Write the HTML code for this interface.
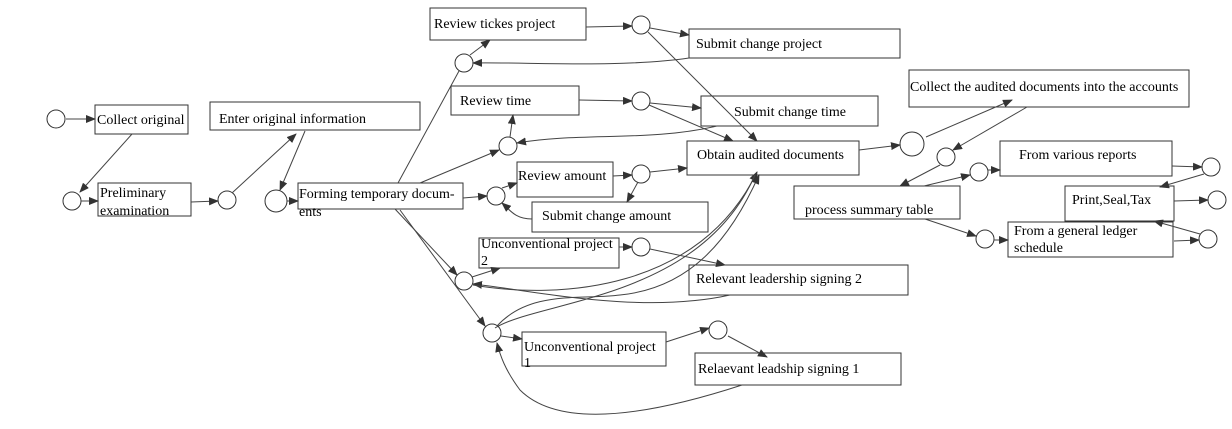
<!DOCTYPE html>
<html><head><meta charset="utf-8"><style>
html,body{margin:0;padding:0;background:#fff;}
text{font-family:"Liberation Serif","Times New Roman",serif;font-size:14px;fill:#000;}
</style></head><body>
<svg width="1232" height="424" viewBox="0 0 1232 424" xmlns="http://www.w3.org/2000/svg">
<defs><marker id="a" markerWidth="10" markerHeight="8" refX="9" refY="4" orient="auto" markerUnits="userSpaceOnUse"><path d="M0,0 L10,4 L0,8 z" fill="#333"/></marker></defs>
<g fill="#fff" stroke="#333" stroke-width="1">
<rect x="95" y="105" width="93" height="29"/>
<rect x="210" y="102" width="210" height="28"/>
<rect x="98" y="183" width="93" height="33"/>
<rect x="298" y="183" width="165" height="26"/>
<rect x="430" y="8" width="156" height="32"/>
<rect x="689" y="29" width="211" height="29"/>
<rect x="451" y="86" width="128" height="29"/>
<rect x="701" y="96" width="177" height="30"/>
<rect x="517" y="162" width="96" height="35"/>
<rect x="532" y="202" width="176" height="30"/>
<rect x="479" y="238" width="140" height="30"/>
<rect x="689" y="265" width="219" height="30"/>
<rect x="522" y="332" width="144" height="34"/>
<rect x="695" y="353" width="206" height="32"/>
<rect x="687" y="141" width="172" height="34"/>
<rect x="909" y="70" width="280" height="37"/>
<rect x="794" y="186" width="166" height="33"/>
<rect x="1000" y="141" width="172" height="35"/>
<rect x="1065" y="186" width="109" height="35"/>
<rect x="1008" y="222" width="165" height="35"/>
<circle cx="56" cy="119" r="9"/><circle cx="72" cy="201" r="9"/><circle cx="227" cy="200" r="9"/>
<circle cx="276" cy="201" r="11"/><circle cx="464" cy="63" r="9"/><circle cx="641" cy="25" r="9"/>
<circle cx="641" cy="101" r="9"/><circle cx="508" cy="146" r="9"/><circle cx="496" cy="196" r="9"/>
<circle cx="641" cy="174" r="9"/><circle cx="641" cy="247" r="9"/><circle cx="464" cy="281" r="9"/>
<circle cx="492" cy="333" r="9"/><circle cx="718" cy="330" r="9"/><circle cx="912" cy="144" r="12"/>
<circle cx="946" cy="157" r="9"/><circle cx="979" cy="172" r="9"/><circle cx="985" cy="239" r="9"/>
<circle cx="1211" cy="167" r="9"/><circle cx="1217" cy="200" r="9"/><circle cx="1208" cy="239" r="9"/>
</g>
<g fill="none" stroke="#444" stroke-width="1" marker-end="url(#a)">
<line x1="66" y1="119" x2="95" y2="119"/>
<line x1="132" y1="134" x2="80" y2="192"/>
<line x1="81" y1="201" x2="98" y2="201"/>
<line x1="191" y1="202" x2="218" y2="201"/>
<line x1="232" y1="193" x2="296" y2="134"/>
<line x1="305" y1="131" x2="280" y2="190"/>
<line x1="287" y1="201" x2="298" y2="201"/>
<line x1="470" y1="55" x2="490" y2="40"/>
<line x1="586" y1="27" x2="632" y2="26"/>
<line x1="650" y1="28" x2="689" y2="35"/>
<path d="M689,58 C620,68 530,62 473,63"/>
<line x1="648" y1="32" x2="757" y2="141"/>
<line x1="420" y1="183" x2="499" y2="150"/>
<line x1="510" y1="137" x2="513" y2="115"/>
<line x1="579" y1="100" x2="632" y2="101"/>
<line x1="650" y1="103" x2="701" y2="108"/>
<line x1="649" y1="105" x2="733" y2="141"/>
<path d="M717,126 C650,142 580,132 517,143"/>
<line x1="463" y1="198" x2="487" y2="196"/>
<line x1="502" y1="188" x2="517" y2="183"/>
<line x1="613" y1="176" x2="632" y2="175"/>
<line x1="650" y1="172" x2="687" y2="168"/>
<line x1="638" y1="182" x2="627" y2="202"/>
<path d="M532,219 C515,219 510,210 502,203"/>
<line x1="395" y1="209" x2="457" y2="275"/>
<line x1="472" y1="277" x2="500" y2="268"/>
<line x1="619" y1="247" x2="632" y2="247"/>
<line x1="650" y1="249" x2="725" y2="265"/>
<path d="M730,295 C640,315 530,290 473,284"/>
<path d="M473,285 C560,300 700,290 757,172"/>
<path d="M497,326 C530,290 580,300 620,295 C690,288 730,240 759,175"/>
<line x1="400" y1="210" x2="485" y2="326"/>
<line x1="501" y1="336" x2="522" y2="339"/>
<line x1="666" y1="342" x2="709" y2="328"/>
<line x1="728" y1="336" x2="767" y2="357"/>
<path d="M742,385 C650,415 560,430 520,390 C505,370 500,355 497,343"/>
<line x1="859" y1="150" x2="900" y2="145"/>
<line x1="926" y1="137" x2="1012" y2="100"/>
<line x1="1027" y1="107" x2="953" y2="150"/>
<line x1="940" y1="165" x2="900" y2="186"/>
<line x1="924" y1="186" x2="970" y2="175"/>
<line x1="988" y1="170" x2="1000" y2="170"/>
<line x1="925" y1="219" x2="976" y2="236"/>
<line x1="994" y1="240" x2="1008" y2="240"/>
<line x1="1172" y1="166" x2="1202" y2="167"/>
<line x1="1204" y1="174" x2="1160" y2="187"/>
<line x1="1174" y1="201" x2="1208" y2="200"/>
<line x1="1200" y1="234" x2="1154" y2="221"/>
<line x1="1174" y1="241" x2="1199" y2="240"/>
</g>
<line x1="398" y1="183" x2="459" y2="71" stroke="#444"/>
<path d="M495,328 C540,300 700,300 755,175" stroke="#444" fill="none"/>
<g font-family="Liberation Serif, serif" font-size="14">
<text x="97" y="124">Collect original</text>
<text x="219" y="123">Enter original information</text>
<text x="100" y="197">Preliminary</text>
<text x="100" y="215">examination</text>
<text x="299" y="198">Forming temporary docum-</text>
<text x="299" y="216">ents</text>
<text x="434" y="28">Review tickes project</text>
<text x="696" y="48">Submit change project</text>
<text x="460" y="105">Review time</text>
<text x="734" y="116">Submit change time</text>
<text x="518" y="180">Review amount</text>
<text x="542" y="220">Submit change amount</text>
<text x="481" y="248">Unconventional project</text>
<text x="481" y="265">2</text>
<text x="696" y="283">Relevant leadership signing 2</text>
<text x="524" y="351">Unconventional project</text>
<text x="524" y="367">1</text>
<text x="698" y="373">Relaevant leadship signing 1</text>
<text x="697" y="159">Obtain audited documents</text>
<text x="910" y="91">Collect the audited documents into the accounts</text>
<text x="805" y="214">process summary table</text>
<text x="1019" y="159">From various reports</text>
<text x="1072" y="204">Print,Seal,Tax</text>
<text x="1014" y="235">From a general ledger</text>
<text x="1014" y="252">schedule</text>
</g>
</svg>
</body></html>
